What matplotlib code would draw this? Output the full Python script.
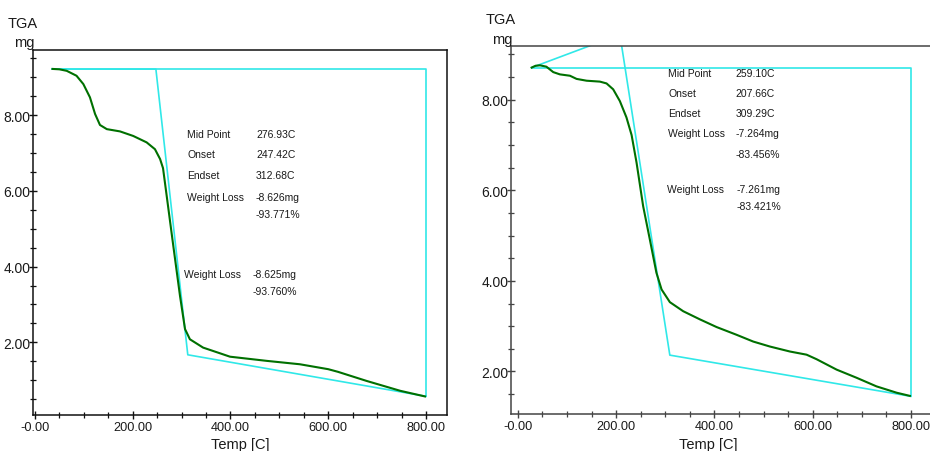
import matplotlib
matplotlib.use("Agg")
import matplotlib.pyplot as plt
from matplotlib.ticker import FixedLocator, FixedFormatter, MultipleLocator

plt.rcParams['font.family'] = ['Liberation Sans Narrow', 'Liberation Sans', 'DejaVu Sans']

# ---------------- data ----------------
# Left run
left_temp = [36, 50, 65, 85, 99, 112.5, 123, 133, 147, 174, 201, 228.5, 245.5, 256, 262,
             269.5, 283, 296.7, 307, 317, 344, 378.5, 399, 474, 542, 600, 620, 678.5, 747, 798]
left_mass = [9.22, 9.21, 9.17, 9.04, 8.82, 8.47, 8.03, 7.74, 7.63, 7.57, 7.45, 7.28, 7.10, 6.84, 6.60,
             5.87, 4.55, 3.23, 2.35, 2.08, 1.86, 1.71, 1.62, 1.51, 1.42, 1.29, 1.22, 0.98, 0.72, 0.57]
left_base_t = [35, 800, 800]
left_base_m = [9.215, 9.215, 0.574]
left_tan_t = [35, 247.42, 312.68, 800]
left_tan_m = [9.215, 9.215, 1.67, 0.574]
left_labels = ["Mid Point", "Onset", "Endset", "Weight Loss", ""]
left_values = ["276.93C", "247.42C", "312.68C", "-8.626mg", "-93.771%"]
left_wl2 = ["-8.625mg", "-93.760%"]

# Right run
right_temp = [28, 36, 45, 58, 72, 85.5, 106, 119.5, 140, 167, 180.5, 194, 207.6, 221, 231.5,
              241.6, 255, 268.7, 282, 292.5, 309.4, 336.5, 370.5, 404.5, 445, 479, 513, 553.7,
              587.7, 608, 648.8, 689.5, 730, 771, 798]
right_mass = [8.71, 8.75, 8.76, 8.73, 8.61, 8.56, 8.53, 8.46, 8.42, 8.40, 8.36, 8.23, 7.97, 7.61, 7.22,
              6.61, 5.65, 4.91, 4.18, 3.81, 3.53, 3.33, 3.15, 2.98, 2.81, 2.66, 2.55, 2.44,
              2.37, 2.27, 2.04, 1.86, 1.67, 1.53, 1.46]
right_base_t = [28, 800, 800]
right_base_m = [8.71, 8.71, 1.45]
right_tan_t = [28, 207.66, 309.29, 800]
right_tan_m = [8.71, 9.44, 2.36, 1.45]
right_labels = ["Mid Point", "Onset", "Endset", "Weight Loss", ""]
right_values = ["259.10C", "207.66C", "309.29C", "-7.264mg", "-83.456%"]
right_wl2 = ["-7.261mg", "-83.421%"]

xticks = [0, 200, 400, 600, 800]
xtick_labels = ["-0.00", "200.00", "400.00", "600.00", "800.00"]
yticks = [2, 4, 6, 8]
ytick_labels = ["2.00", "4.00", "6.00", "8.00"]

# ---------------- layout ----------------
W, H = 930, 452
fig = plt.figure(figsize=(W / 100, H / 100), dpi=100)

def box(l, t, r, b):
    return [l / W, 1 - b / H, (r - l) / W, (b - t) / H]

def ftext(x, y, s, **kw):
    fig.text(x / W, 1 - y / H, s, **kw)

GREEN = '#007000'
CYAN = '#30E8E8'
TXT = '#1a1a1a'

def setup(ax, xlim, ylim, spine_color):
    ax.set_xlim(*xlim)
    ax.set_ylim(*ylim)
    ax.xaxis.set_major_locator(FixedLocator(xticks))
    ax.xaxis.set_major_formatter(FixedFormatter(xtick_labels))
    ax.xaxis.set_minor_locator(MultipleLocator(50))
    ax.yaxis.set_major_locator(FixedLocator(yticks))
    ax.yaxis.set_major_formatter(FixedFormatter(ytick_labels))
    ax.yaxis.set_minor_locator(MultipleLocator(0.5))
    ax.tick_params(which='major', direction='inout', length=6, width=1.0,
                   colors=spine_color, labelcolor=TXT)
    ax.tick_params(axis='x', which='major', labelsize=9.2, pad=1)
    ax.tick_params(axis='y', which='major', labelsize=10, pad=-1)
    ax.tick_params(which='minor', direction='inout', length=4, width=0.9, colors=spine_color)
    for s in ax.spines.values():
        s.set_color(spine_color)
        s.set_linewidth(1.1)

# Left panel
axL = fig.add_axes(box(33, 51, 447, 416))
setup(axL, (-4, 843), (0.08, 9.72), '#111111')
axL.plot(left_base_t, left_base_m, color=CYAN, lw=1.2)
axL.plot(left_tan_t, left_tan_m, color=CYAN, lw=1.2)
axL.plot(left_temp, left_mass, color=GREEN, lw=1.5)

# Right panel
axR = fig.add_axes(box(511, 47.3, 932, 415))
setup(axR, (-14, 843), (1.06, 9.18), '#444444')
axR.spines['right'].set_visible(False)
axR.plot(right_base_t, right_base_m, color=CYAN, lw=1.2)
axR.plot(right_tan_t, right_tan_m, color=CYAN, lw=1.2)
axR.plot(right_temp, right_mass, color=GREEN, lw=1.5)

# axis titles
for (tx, ty, mx, my, xl) in [(23, 24, 24, 43, 240), (501, 19.5, 502, 40, 708)]:
    ftext(tx, ty, "TGA", fontsize=10.5, ha='center', va='center', color=TXT)
    ftext(mx, my, "mg", fontsize=10.5, ha='center', va='center', color=TXT)
    ftext(xl, 445, "Temp [C]", fontsize=10.5, ha='center', va='center', color=TXT)

# annotations
afs = 7.5
rowsL = [135, 155, 176.5, 198, 215]
for lab, val, y in zip(left_labels, left_values, rowsL):
    if lab:
        ftext(187, y, lab, fontsize=afs, va='center', color=TXT)
    ftext(256, y, val, fontsize=afs, va='center', color=TXT)
ftext(183.5, 275, "Weight Loss", fontsize=afs, va='center', color=TXT)
ftext(252.5, 275, left_wl2[0], fontsize=afs, va='center', color=TXT)
ftext(252.5, 292, left_wl2[1], fontsize=afs, va='center', color=TXT)

rowsR = [74, 94, 114, 134.5, 154.5]
for lab, val, y in zip(right_labels, right_values, rowsR):
    if lab:
        ftext(668, y, lab, fontsize=afs, va='center', color=TXT)
    ftext(735.5, y, val, fontsize=afs, va='center', color=TXT)
ftext(667, 190, "Weight Loss", fontsize=afs, va='center', color=TXT)
ftext(736.5, 190, right_wl2[0], fontsize=afs, va='center', color=TXT)
ftext(736.5, 207, right_wl2[1], fontsize=afs, va='center', color=TXT)

fig.savefig("out.png", dpi=100)
